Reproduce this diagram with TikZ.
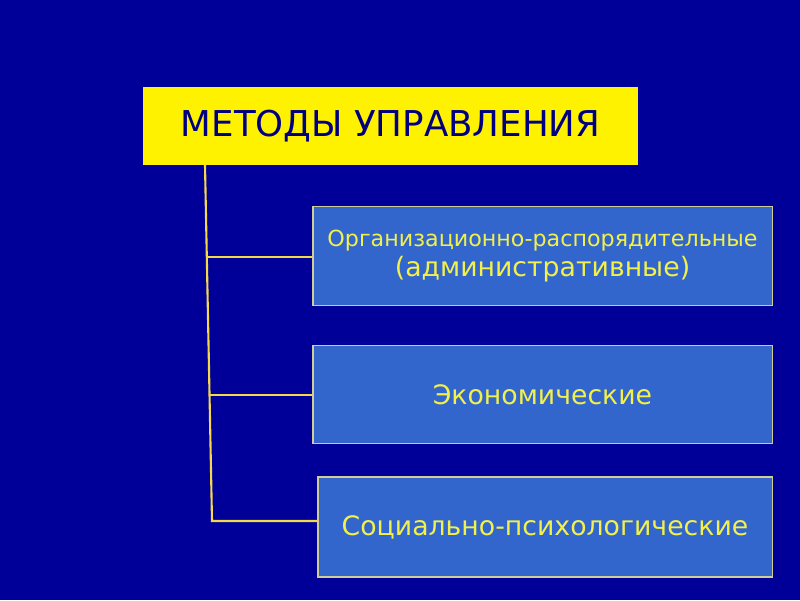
\documentclass[tikz,border=0pt]{standalone}
\usepackage{fontspec}
\setmainfont{DejaVu Sans}
\definecolor{bgblue}{HTML}{000099}
\definecolor{boxblue}{HTML}{3366CC}
\definecolor{titleblue}{HTML}{000080}
\definecolor{txtyellow}{HTML}{F2F04A}
\definecolor{lineyellow}{HTML}{F5D84A}
\tikzset{
  titlebox/.style={fill=yellow, draw=none, minimum width=12.375cm, minimum height=1.95cm,
    text=titleblue, font=\fontsize{25.3}{30}\selectfont, inner sep=0pt},
  methodbox/.style={fill=boxblue, draw=yellow!40!gray!70, line width=0.8pt,
    minimum height=2.46cm, inner sep=0pt, text=txtyellow, align=center},
  branch/.style={lineyellow, line width=1.5pt}
}
\begin{document}
\begin{tikzpicture}[x=0.025cm, y=-0.025cm]
    % Background
    \fill[bgblue] (0,0) rectangle (800,600);
    \useasboundingbox (0,0) rectangle (800,600);

    % Title
    \node[titlebox] (title) at (390.5,126) {МЕТОДЫ УПРАВЛЕНИЯ};

    % Methods
    \node[methodbox, minimum width=11.475cm] (org) at (542.5,256)
      {{\fontsize{15.8}{20}\selectfont Организационно-распорядительные}\\[2pt]
       {\fontsize{19}{23}\selectfont (административные)}};
    \node[methodbox, minimum width=11.475cm, font=\fontsize{19}{23}\selectfont]
      (eco) at (542.5,394.5) {Экономические};
    \node[methodbox, minimum width=11.35cm, minimum height=2.5cm,
      font=\fontsize{19}{23}\selectfont]
      (soc) at (545,527) {Социально-психологические};

    % Connectors
    \coordinate (trunk) at (205,165);
    \coordinate (trunkend) at (212,521);
    \draw[branch] (trunk) -- (trunkend) -- (trunkend -| soc.west);
    \draw[branch] (206,257) -- (206,257 -| org.west);
    \draw[branch] (210,395) -- (210,395 -| eco.west);
\end{tikzpicture}
\end{document}
